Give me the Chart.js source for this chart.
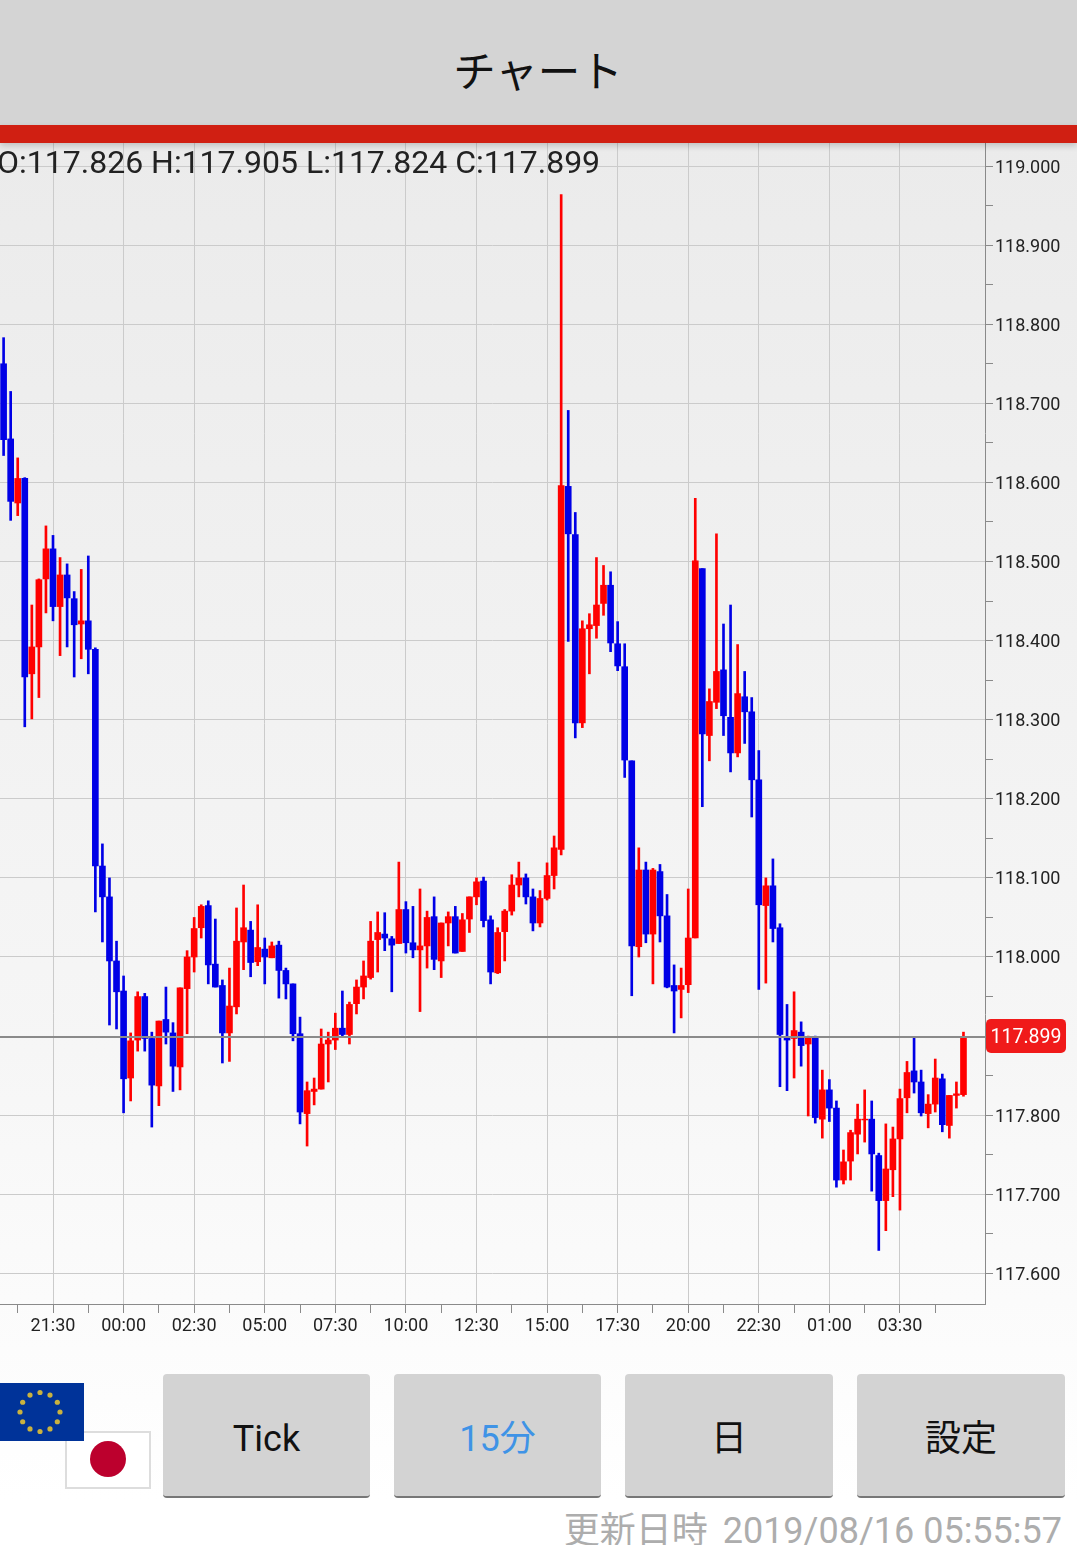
<!DOCTYPE html>
<html lang="ja">
<head>
<meta charset="utf-8">
<title>チャート</title>
<script src="https://cdn.jsdelivr.net/npm/chart.js@4/dist/chart.umd.min.js"></script>
<style>
    html, body { margin: 0; padding: 0; }
    body {
        position: relative; width: 1077px; height: 1545px; overflow: hidden;
        font-family: Roboto, "Noto Sans CJK JP", sans-serif;
        background: linear-gradient(to bottom, #ebebeb 143px, #f6f6f6 1050px, #ffffff 1500px);
    }
    #titlebar {
        position: absolute; left: -1px; top: 0; width: 1078px; height: 125px; line-height: 139px;
        background: #d4d4d4; color: #111; text-align: center;
        font-family: "Noto Sans CJK JP", sans-serif; font-size: 42.5px;
    }
    #titlebar span { position: relative; top: -7px; display: inline-block; line-height: 1; vertical-align: middle; }
    #redbar {
        position: absolute; left: 0; top: 125px; width: 1077px; height: 18px;
        background: #d01f12; box-shadow: 0 3px 6px rgba(0,0,0,.18); z-index: 2;
    }
    #chart { position: absolute; left: 0; top: 143px; }
    #ohlc {
        position: absolute; left: -3px; top: 143px; line-height: 38px;
        font-size: 32px; color: #222; white-space: nowrap; z-index: 3;
    }
    .btn {
        position: absolute; top: 1374px; height: 122px; line-height: 130px;
        background: #d3d3d3; border-radius: 4px; border-bottom: 2px solid #777;
        text-align: center; font-size: 36px; color: #111;
        font-family: Roboto, "Noto Sans CJK JP", sans-serif;
    }
    #flag-eu { position: absolute; left: 0; top: 1383px; z-index: 2; }
    #flag-jp { position: absolute; left: 65px; top: 1431px; }
    #updated {
        position: absolute; right: 15px; top: 1510px; line-height: 42px;
        font-size: 36px; color: #adadad; white-space: nowrap;
    }
    #updated span { margin-right: 6px; }
</style>
</head>
<body>
<div id="titlebar"><span>チャート</span></div>
<div id="redbar"></div>
<canvas id="chart" width="1077" height="1202"></canvas>
<div id="ohlc">O:117.826 H:117.905 L:117.824 C:117.899</div>

<svg id="flag-jp" width="86" height="58">
    <rect x="1" y="1" width="84" height="56" fill="#fff" stroke="#ddd" stroke-width="2"></rect>
    <circle cx="43" cy="28" r="18" fill="#bc002d"></circle>
</svg>
<svg id="flag-eu" width="84" height="58">
    <rect width="84" height="58" fill="#003399"></rect>
    <g id="eu-stars" fill="#c9b23f"></g>
</svg>

<div class="btn" style="left:163px;width:207px">Tick</div>
<div class="btn" style="left:394px;width:207px;color:#3f93e6">15分</div>
<div class="btn" style="left:625px;width:208px">日</div>
<div class="btn" style="left:857px;width:208px">設定</div>
<div id="updated"><span>更新日時</span> 2019/08/16 05:55:57</div>

<script>
/* USD/JPY style candles, 15 minute bars */
var opens = [
    118.750,118.655,118.574,118.605,118.358,118.392,118.478,118.516,118.443,118.483,
    118.453,118.421,118.425,118.389,118.115,118.076,117.995,117.957,117.847,117.895,
    117.950,117.897,117.837,117.921,117.904,117.861,117.960,118.000,118.037,118.065,
    117.991,117.964,117.904,117.937,118.019,118.034,117.994,118.010,117.999,118.015,
    117.983,117.966,117.903,117.802,117.830,117.833,117.890,117.895,117.910,117.902,
    117.941,117.962,117.974,118.022,118.029,118.023,118.017,118.060,118.018,118.009,
    118.014,118.051,117.995,118.043,118.051,118.007,118.048,118.076,118.096,118.047,
    117.980,118.032,118.058,118.091,118.100,118.076,118.043,118.074,118.103,118.136,
    118.595,118.534,118.296,118.415,118.419,118.447,118.470,118.396,118.367,118.248,
    118.013,118.110,118.029,118.108,118.052,117.964,117.959,117.965,118.024,118.491,
    118.280,118.322,118.363,118.303,118.258,118.329,118.310,118.224,118.065,118.090,
    118.037,117.898,117.897,117.905,117.890,117.899,117.795,117.832,117.809,117.718,
    117.742,117.776,117.794,117.795,117.749,117.692,117.731,117.770,117.822,117.856,
    117.842,117.802,117.814,117.846,117.787,117.825,117.826
];
var highs = [
    118.783,118.715,118.631,118.606,118.445,118.478,118.545,118.533,118.505,118.497,
    118.462,118.490,118.507,118.391,118.143,118.100,118.020,117.976,117.904,117.956,
    117.954,117.905,117.919,117.962,117.917,117.961,118.008,118.050,118.066,118.071,
    118.048,117.971,117.986,118.062,118.091,118.045,118.066,118.024,118.019,118.020,
    117.986,117.966,117.924,117.842,117.847,117.909,117.905,117.929,117.957,117.943,
    117.971,117.995,118.045,118.057,118.056,118.026,118.120,118.070,118.064,118.086,
    118.058,118.076,118.043,118.057,118.064,118.055,118.076,118.100,118.101,118.052,
    118.037,118.060,118.104,118.120,118.105,118.086,118.084,118.119,118.153,118.964,
    118.691,118.562,118.425,118.434,118.505,118.495,118.487,118.424,118.396,118.248,
    118.138,118.120,118.112,118.117,118.079,117.990,117.986,118.086,118.580,118.491,
    118.339,118.535,118.421,118.445,118.395,118.361,118.328,118.261,118.100,118.124,
    118.042,117.940,117.956,117.918,117.900,117.900,117.857,117.845,117.818,117.756,
    117.781,117.814,117.832,117.818,117.752,117.789,117.785,117.833,117.868,117.899,
    117.857,117.826,117.871,117.852,117.825,117.842,117.905
];
var lows = [
    118.634,118.552,118.558,118.291,118.301,118.328,118.435,118.425,118.381,118.392,
    118.354,118.377,118.358,118.057,118.019,117.914,117.909,117.803,117.818,117.881,
    117.881,117.785,117.812,117.890,117.830,117.832,117.903,117.981,118.024,117.966,
    117.962,117.866,117.868,117.928,117.984,117.975,117.989,117.966,117.999,117.948,
    117.947,117.894,117.789,117.761,117.813,117.833,117.842,117.883,117.900,117.890,
    117.928,117.947,117.972,117.981,118.008,117.956,118.017,118.005,117.999,117.931,
    117.986,117.984,117.974,118.014,118.005,118.007,118.031,118.066,118.038,117.966,
    117.979,117.995,118.053,118.076,118.067,118.033,118.038,118.072,118.086,118.129,
    118.399,118.277,118.290,118.358,118.403,118.432,118.386,118.362,118.227,117.951,
    118.000,118.018,117.966,118.019,117.961,117.904,117.923,117.955,118.024,118.190,
    118.248,118.314,118.280,118.234,118.253,118.270,118.177,117.959,117.967,118.019,
    117.836,117.831,117.847,117.862,117.799,117.790,117.771,117.792,117.709,117.713,
    117.718,117.751,117.766,117.704,117.629,117.654,117.697,117.680,117.803,117.828,
    117.799,117.784,117.804,117.779,117.771,117.809,117.824
];
var closes = [
    118.654,118.576,118.605,118.354,118.392,118.477,118.516,118.443,118.483,118.454,
    118.420,118.425,118.389,118.115,118.076,117.995,117.956,117.846,117.894,117.950,
    117.897,117.838,117.919,117.905,117.862,117.961,118.000,118.036,118.064,117.990,
    117.962,117.904,117.938,118.020,118.037,117.993,118.012,118.000,118.014,117.983,
    117.966,117.903,117.804,117.831,117.833,117.890,117.895,117.910,117.902,117.940,
    117.962,117.976,118.020,118.031,118.024,118.015,118.060,118.018,118.009,118.014,
    118.050,117.997,118.043,118.051,118.005,118.047,118.076,118.095,118.046,117.981,
    118.031,118.058,118.091,118.100,118.076,118.043,118.074,118.103,118.138,118.596,
    118.535,118.296,118.415,118.420,118.445,118.470,118.397,118.368,118.249,118.014,
    118.110,118.029,118.110,118.052,117.962,117.957,117.964,118.024,118.501,118.282,
    118.323,118.361,118.305,118.258,118.333,118.310,118.224,118.066,118.090,118.036,
    117.902,117.895,117.907,117.888,117.899,117.797,117.832,117.809,117.718,117.741,
    117.778,117.795,117.795,117.751,117.692,117.732,117.770,117.821,117.854,117.842,
    117.803,117.814,117.847,117.788,117.825,117.827,117.899
];

var timeLabels = ['21:30','00:00','02:30','05:00','07:30','10:00','12:30','15:00','17:30','20:00','22:30','01:00','03:30'];
var priceLabels = ['119.000','118.900','118.800','118.700','118.600','118.500','118.400','118.300','118.200','118.100','118.000','117.900','117.800','117.700','117.600'];

var UP_COLOR = '#ff0000';
var DOWN_COLOR = '#0000e6';
var GRID_COLOR = '#cbcbcb';
var AXIS_COLOR = '#8a8a8a';
var LAST_COLOR = '#f01a1a';

// visible window of the chart, in candle index and price
var X_MIN = -0.51, X_MAX = 139.05;
var Y_MIN = 117.5613, Y_MAX = 119.0291;

function candleColor(ctx) {
    var i = ctx.dataIndex;
    return closes[i] >= opens[i] ? UP_COLOR : DOWN_COLOR;
}

var wickData = [], bodyData = [];
for (var n = 0; n < opens.length; n++) {
    wickData.push({ x: n, y: [lows[n], highs[n]] });
    bodyData.push({ x: n, y: [opens[n], closes[n]] });
}
var lastClose = closes[closes.length - 1];

// x ticks: one labelled tick per timeLabels entry, a short one in between
function buildTimeTicks(scale) {
    var ticks = [];
    for (var t = 0; t < timeLabels.length; t++) {
        ticks.push({ value: 7 + t * 10, major: true });
    }
    for (var m = 0; m <= timeLabels.length; m++) {
        ticks.push({ value: 2 + m * 10, major: false });
    }
    ticks.sort(function (a, b) { return a.value - b.value; });
    scale.ticks = ticks;
}

function buildPriceTicks(scale) {
    var ticks = [];
    priceLabels.forEach(function (p) {
        var v = parseFloat(p);
        ticks.push({ value: v, major: true });
        if (v - 0.05 > Y_MIN) ticks.push({ value: v - 0.05, major: false });
    });
    ticks.sort(function (a, b) { return a.value - b.value; });
    scale.ticks = ticks;
}

function gridColor(ctx) {
    return ctx.tick && ctx.tick.major ? GRID_COLOR : 'rgba(0,0,0,0)';
}

// labels may hang over the plot edge, the plot itself fills the canvas
function noAxisPadding(scale) {
    scale.paddingTop = 0;
    scale.paddingBottom = 0;
    scale.paddingLeft = 0;
    scale.paddingRight = 0;
}

// red box with the last price, sits on the right axis
var lastPriceBox = {
    id: 'lastPriceBox',
    afterDraw: function (chart) {
        var c = chart.ctx, y = chart.scales.y.getPixelForValue(lastClose) - 1;
        var left = chart.chartArea.right + 1;
        c.save();
        c.fillStyle = LAST_COLOR;
        c.beginPath();
        c.roundRect(left, y - 17, 80, 34, 5);
        c.fill();
        c.fillStyle = '#fff';
        c.font = '19.5px Roboto';
        c.textAlign = 'center';
        c.textBaseline = 'middle';
        c.fillText(lastClose.toFixed(3), left + 40, y + 2);
        c.restore();
    }
};

new Chart(document.getElementById('chart'), {
    type: 'bar',
    data: {
        datasets: [
            {
                type: 'line',
                data: [{ x: X_MIN, y: lastClose }, { x: X_MAX, y: lastClose }],
                borderColor: AXIS_COLOR,
                borderWidth: 2,
                pointRadius: 0,
                order: 0,
            },
            {
                data: bodyData,
                backgroundColor: candleColor,
                barThickness: 6,
                grouped: false,
                order: 1,
            },
            {
                data: wickData,
                backgroundColor: candleColor,
                barThickness: 2,
                grouped: false,
                order: 2,
            },
        ],
    },
    options: {
        responsive: false,
        animation: false,
        events: [],
        layout: { padding: 0 },
        plugins: { legend: { display: false }, tooltip: { enabled: false } },
        scales: {
            x: {
                type: 'linear',
                offset: false,
                min: X_MIN,
                max: X_MAX,
                afterBuildTicks: buildTimeTicks,
                afterFit: function (scale) {
                    scale.height = 41;
                    noAxisPadding(scale);
                },
                border: { color: AXIS_COLOR },
                grid: { color: gridColor, tickColor: AXIS_COLOR, tickLength: 9, offset: false },
                ticks: {
                    autoSkip: false,
                    maxRotation: 0,
                    padding: 3,
                    color: '#222',
                    font: { family: 'Roboto', size: 18 },
                    callback: function (value) {
                        var t = (value - 7) / 10;
                        return Number.isInteger(t) ? timeLabels[t] : '';
                    },
                },
            },
            y: {
                position: 'right',
                min: Y_MIN,
                max: Y_MAX,
                afterBuildTicks: buildPriceTicks,
                afterFit: function (scale) {
                    scale.width = 92;
                    noAxisPadding(scale);
                },
                border: { color: AXIS_COLOR },
                grid: { color: gridColor, tickColor: AXIS_COLOR, tickLength: 8 },
                ticks: {
                    autoSkip: false,
                    padding: 2,
                    labelOffset: 2,
                    color: '#222',
                    font: { family: 'Roboto', size: 18 },
                    callback: function (value, i, ticks) {
                        return ticks[i].major ? value.toFixed(3) : '';
                    },
                },
            },
        },
    },
    plugins: [lastPriceBox],
});

// EU flag stars
var stars = document.getElementById('eu-stars');
for (var s = 0; s < 12; s++) {
    var dot = document.createElementNS('http://www.w3.org/2000/svg', 'circle');
    dot.setAttribute('cx', 40 + 20 * Math.cos(s * Math.PI / 6));
    dot.setAttribute('cy', 29 + 19.5 * Math.sin(s * Math.PI / 6));
    dot.setAttribute('r', 2.6);
    stars.appendChild(dot);
}
</script>
</body>
</html>
